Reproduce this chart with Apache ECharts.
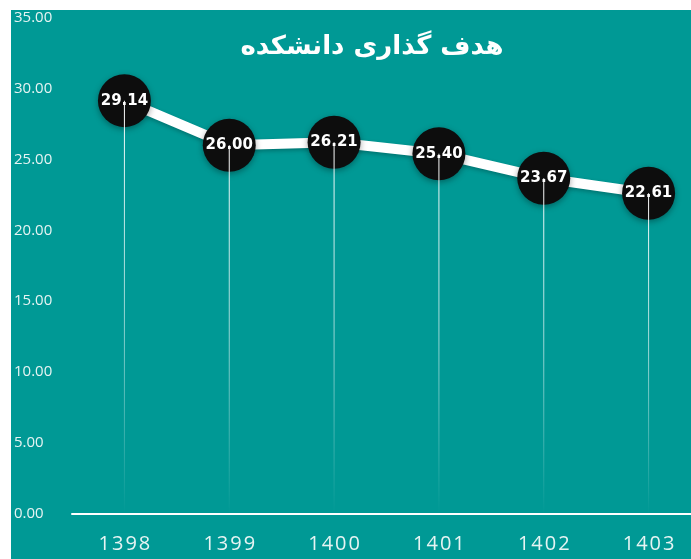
<!DOCTYPE html>
<html>
<head>
<meta charset="utf-8">
<script src="https://cdn.jsdelivr.net/npm/echarts@6/dist/echarts.min.js"></script>
<style>
  body { margin: 0; background: #ffffff; overflow: hidden; }
  #chart { position: absolute; left: 11px; top: 10px; width: 700px; height: 549px; background: #009995; }
</style>
</head>
<body>
<div id="chart"></div>
<script>
const years = ['1398', '1399', '1400', '1401', '1402', '1403']
const targets = [29.14, 26.00, 26.21, 25.40, 23.67, 22.61]
const titleText = 'هدف گذاری دانشکده'

const chart = echarts.init(document.getElementById('chart'))

chart.setOption({
  backgroundColor: '#009995',
  title: {
    text: titleText,
    left: 356,
    top: 19,
    textAlign: 'center',
    textStyle: {
      color: '#ffffff',
      fontFamily: 'DejaVu Sans',
      fontWeight: 'bold',
      fontSize: 26
    }
  },
  grid: { left: 61, top: 4, width: 629, height: 500 },
  xAxis: {
    type: 'category',
    data: years,
    boundaryGap: true,
    axisLine: { lineStyle: { color: '#ffffff', width: 2 } },
    axisTick: { show: false },
    axisLabel: {
      color: '#e6f4f3',
      fontFamily: 'Open Sans',
      fontSize: 20,
      margin: 20,
      // excel spreads the year digits a little
      formatter: (v) => v.split('').join('\u200a')
    },
    splitLine: { show: false }
  },
  yAxis: {
    type: 'value',
    min: 0,
    max: 35,
    interval: 5,
    axisLine: { show: false },
    axisTick: { show: false },
    splitLine: { show: false },
    axisLabel: {
      color: '#e6f4f3',
      fontFamily: 'Open Sans',
      fontSize: 15,
      align: 'left',
      margin: 58,
      formatter: (v) => v.toFixed(2)
    }
  },
  series: [
    {
      name: 'target',
      type: 'line',
      data: targets,
      symbol: 'circle',
      symbolSize: 53,
      z: 2,
      lineStyle: {
        color: '#ffffff',
        width: 10,
        shadowColor: 'rgba(0,0,0,0.25)',
        shadowBlur: 4,
        shadowOffsetY: 2
      },
      itemStyle: {
        color: '#0d0d0d',
        shadowColor: 'rgba(0,0,0,0.35)',
        shadowBlur: 6,
        shadowOffsetY: 2
      },
      label: {
        show: true,
        position: 'inside',
        color: '#ffffff',
        fontFamily: 'DejaVu Sans',
        fontWeight: 'bold',
        fontSize: 15,
        formatter: (p) => p.value.toFixed(2)
      }
    },
    {
      name: 'drop',
      type: 'bar',
      data: targets,
      barWidth: 1,
      barGap: '-100%',
      z: 3,
      silent: true,
      itemStyle: {
        color: new echarts.graphic.LinearGradient(0, 0, 0, 1, [
          { offset: 0, color: 'rgba(255,255,255,1)' },
          { offset: 0.5, color: 'rgba(255,255,255,0.6)' },
          { offset: 1, color: 'rgba(255,255,255,0)' }
        ])
      }
    }
  ]
})
</script>
</body>
</html>
